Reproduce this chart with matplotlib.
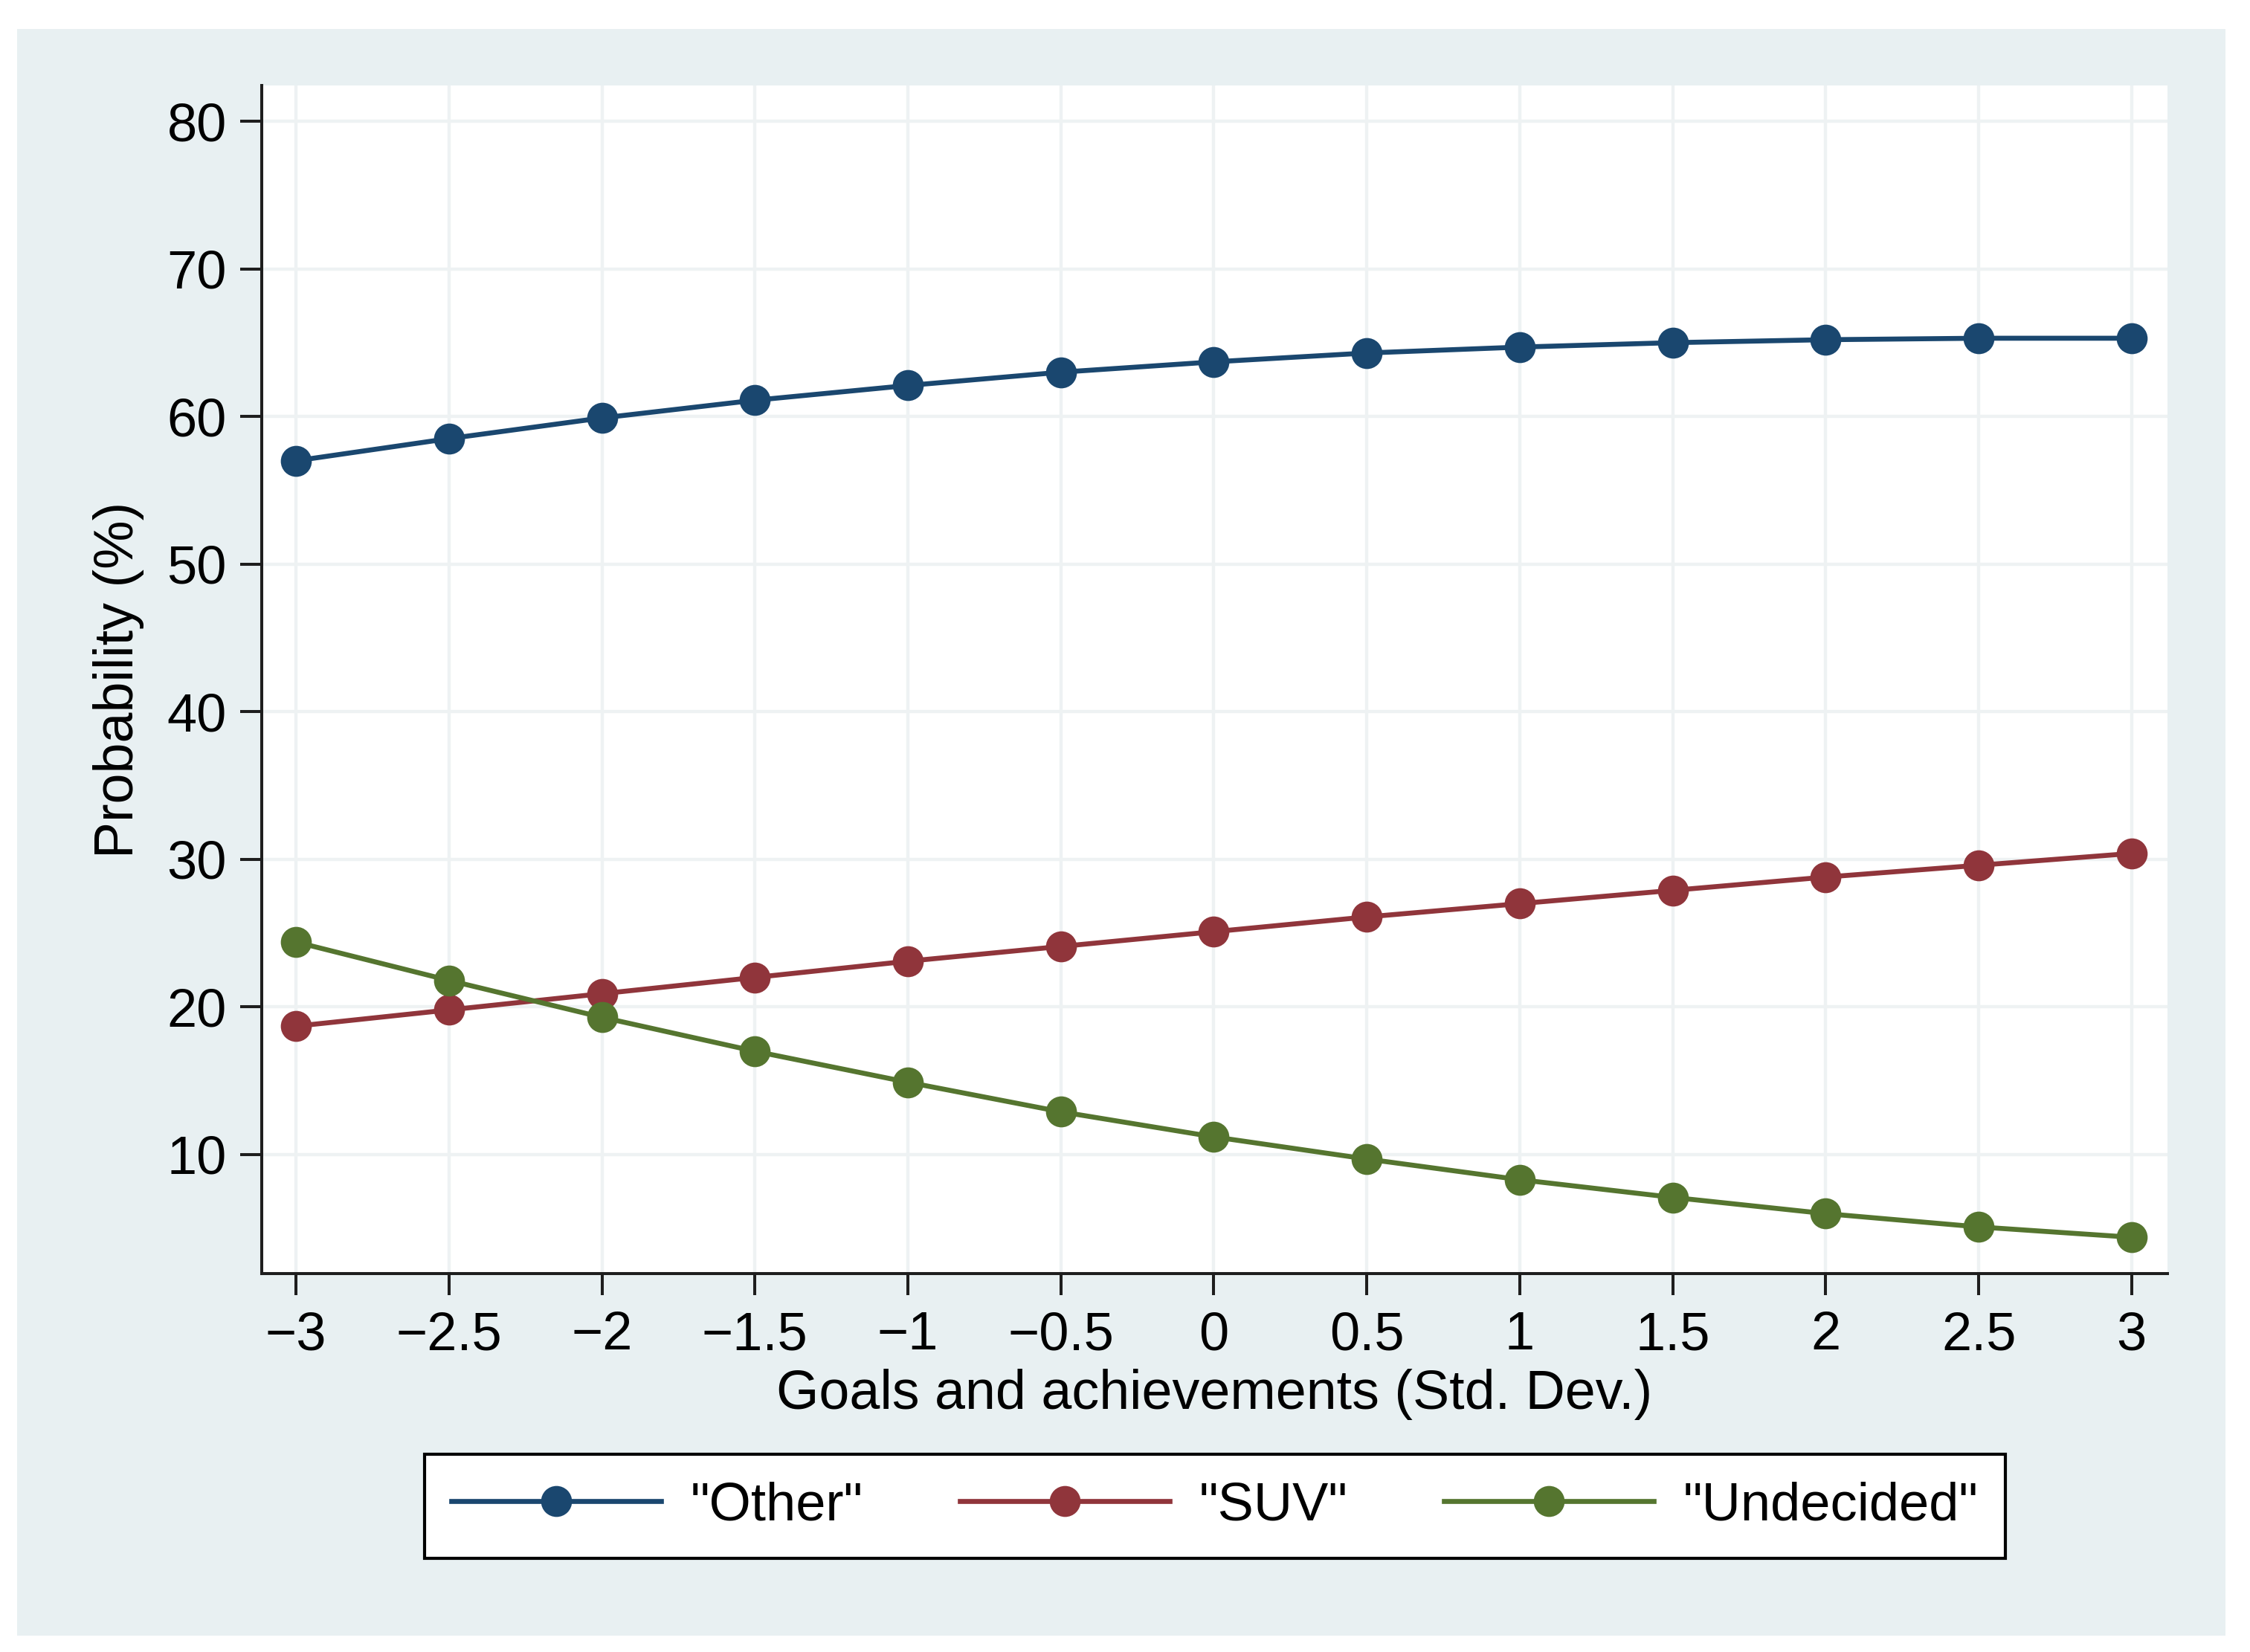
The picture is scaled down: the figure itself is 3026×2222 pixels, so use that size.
import matplotlib
matplotlib.use("Agg")
import matplotlib.pyplot as plt
from matplotlib.patches import Rectangle

plt.rcParams['font.family'] = ['Liberation Sans', 'DejaVu Sans']

x_vals = [-3, -2.5, -2, -1.5, -1, -0.5, 0, 0.5, 1, 1.5, 2, 2.5, 3]
other = [57.0, 58.5, 59.9, 61.1, 62.1, 63.0, 63.7, 64.3, 64.7, 65.0, 65.2, 65.3, 65.3]
suv = [18.7, 19.8, 20.9, 22.0, 23.1, 24.1, 25.1, 26.1, 27.0, 27.9, 28.8, 29.6, 30.4]
undecided = [24.4, 21.8, 19.3, 17.0, 14.9, 12.9, 11.2, 9.7, 8.3, 7.1, 6.0, 5.1, 4.4]
series_labels = ['"Other"', '"SUV"', '"Undecided"']
series_colors = ['#1a476f', '#90353b', '#55752f']
x_ticks = [-3, -2.5, -2, -1.5, -1, -0.5, 0, 0.5, 1, 1.5, 2, 2.5, 3]
x_ticklabels = ['\u22123', '\u22122.5', '\u22122', '\u22121.5', '\u22121', '\u22120.5',
                '0', '0.5', '1', '1.5', '2', '2.5', '3']
y_ticks = [10, 20, 30, 40, 50, 60, 70, 80]
x_title = 'Goals and achievements (Std. Dev.)'
y_title = 'Probability (%)'

W, H = 3026, 2222
fig = plt.figure(figsize=(W / 100, H / 100), dpi=100, facecolor='white')

# light graph region
bg = Rectangle((23 / W, 1 - 2200 / H), (2993 - 23) / W, (2200 - 39) / H,
               transform=fig.transFigure, facecolor='#E8F0F2', edgecolor='none', zorder=-10)
fig.patches.append(bg)

ax = fig.add_axes([352 / W, 1 - 1713 / H, (2915 - 352) / W, (1713 - 115) / H])
ax.set_zorder(1)
ax.set_facecolor('white')

for ys, lab, col in zip([other, suv, undecided], series_labels, series_colors):
    ax.plot(x_vals, ys, color=col, lw=4.8, marker='o', markersize=30,
            markeredgewidth=0, label=lab, zorder=3)

ax.set_xlim(-3.112, 3.117)
ax.set_ylim(1.94, 82.42)
ax.set_xticks(x_ticks)
ax.set_xticklabels(x_ticklabels)
ax.set_yticks(y_ticks)
ax.grid(True, color='#EEF2F3', lw=3.2, zorder=0)
ax.set_axisbelow(True)

for s in ['top', 'right']:
    ax.spines[s].set_visible(False)
for s in ['left', 'bottom']:
    ax.spines[s].set_linewidth(2.9)
    ax.spines[s].set_color('#1e1e1e')

ax.tick_params(axis='both', direction='out', length=21, width=2.9, color='#1e1e1e',
               labelsize=52, labelcolor='black')
ax.tick_params(axis='x', pad=15)
ax.tick_params(axis='y', pad=13)

ax.set_xlabel(x_title, fontsize=53, labelpad=8)
ax.set_ylabel(y_title, fontsize=53, labelpad=22)

leg = fig.legend(loc='center', bbox_to_anchor=(1634 / W, 1 - 2026 / H), ncol=3,
                 fontsize=52, frameon=True, fancybox=False, edgecolor='black',
                 facecolor='white', framealpha=1, handlelength=3.9, handletextpad=0.55,
                 columnspacing=1.8, borderpad=0.5, markerscale=1.0)
leg.get_frame().set_linewidth(3)
leg.set_zorder(5)

fig.savefig('out.png', dpi=100, facecolor='white')
